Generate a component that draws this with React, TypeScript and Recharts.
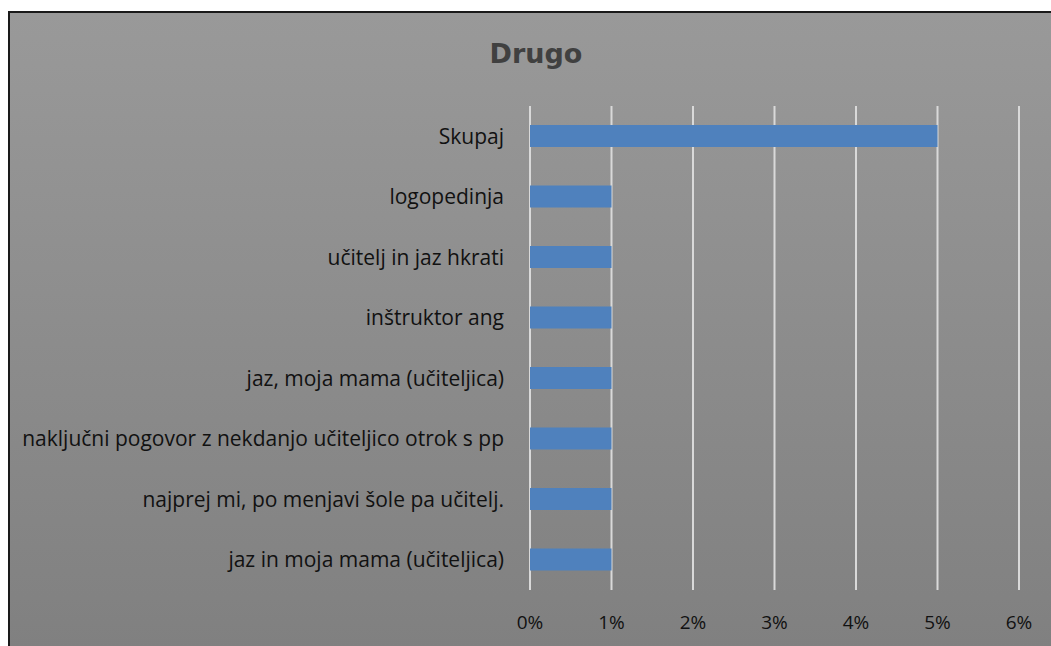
import React from 'react';
import { Bar, BarChart, CartesianGrid, XAxis, YAxis } from 'recharts';

const categories = [
  'Skupaj',
  'logopedinja',
  'učitelj in jaz hkrati',
  'inštruktor ang',
  'jaz, moja mama (učiteljica)',
  'naključni pogovor z nekdanjo učiteljico otrok s pp',
  'najprej mi, po menjavi šole pa učitelj.',
  'jaz in moja mama (učiteljica)',
];
const values = [5, 1, 1, 1, 1, 1, 1, 1];
const xTicks = [0, 1, 2, 3, 4, 5, 6];

const data = categories.map((name, i) => ({ name, value: values[i] }));

const font = '"Open Sans", sans-serif';

export default function App() {
  return (
    <div style={{ position: 'absolute', left: 0, top: 0, width: 1051, height: 646, overflow: 'hidden' }}>
      <div
        style={{
          position: 'absolute',
          left: 8,
          top: 11,
          width: 1060,
          height: 660,
          border: '2px solid #1a1a1a',
          background: 'linear-gradient(#999999, #7f7f7f)',
        }}
      />
      <div
        style={{
          position: 'absolute',
          left: 0,
          top: 38,
          width: 1072,
          textAlign: 'center',
          fontFamily: '"DejaVu Sans", sans-serif',
          fontWeight: 'bold',
          fontSize: 27,
          color: '#404040',
        }}
      >
        Drugo
      </div>
      <div style={{ position: 'absolute', left: 0, top: 0 }}>
        <BarChart
          width={1051}
          height={646}
          data={data}
          layout="vertical"
          margin={{ top: 106, right: 32, bottom: 0, left: 0 }}
          barSize={22}
        >
          <CartesianGrid horizontal={false} stroke="#d9d9d9" strokeWidth={2} />
          <XAxis
            type="number"
            domain={[0, 6]}
            ticks={xTicks}
            tickFormatter={(v: number) => `${v}%`}
            axisLine={false}
            tickLine={false}
            height={56}
            tickMargin={20}
            tick={{ fill: '#111', fontSize: 19, fontFamily: font }}
          />
          <YAxis
            type="category"
            dataKey="name"
            width={530}
            axisLine={false}
            tickLine={false}
            tickMargin={20}
            tick={{ fill: '#111', fontSize: 21, fontFamily: font }}
          />
          <Bar dataKey="value" fill="#4f81bd" isAnimationActive={false} />
        </BarChart>
      </div>
    </div>
  );
}
